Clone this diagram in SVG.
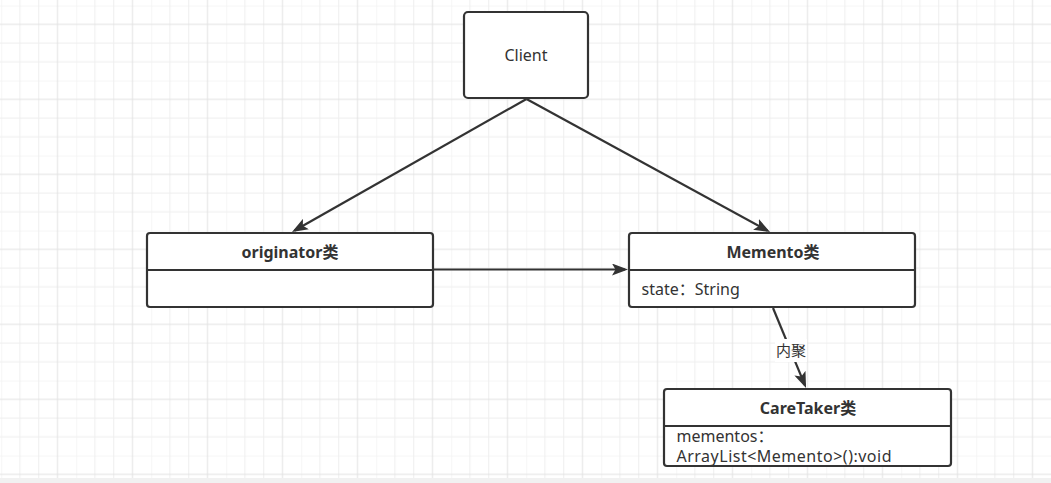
<svg xmlns="http://www.w3.org/2000/svg" width="1051" height="483" viewBox="0 0 1051 483">
  <defs>
    <pattern id="grid" patternUnits="userSpaceOnUse" x="1.25" y="5.6" width="75" height="75">
      <g stroke="#eeeeee" stroke-width="1" fill="none">
        <line x1="0" y1="0" x2="0" y2="75"/>
        <line x1="18.75" y1="0" x2="18.75" y2="75"/>
        <line x1="37.5" y1="0" x2="37.5" y2="75"/>
        <line x1="0" y1="0" x2="75" y2="0"/>
        <line x1="0" y1="37.5" x2="75" y2="37.5"/>
        <line x1="0" y1="56.25" x2="75" y2="56.25"/>
      </g>
      <g stroke="#e2e2e2" stroke-width="1" fill="none">
        <line x1="56.25" y1="0" x2="56.25" y2="75"/>
        <line x1="0" y1="18.75" x2="75" y2="18.75"/>
      </g>
    </pattern>
    <marker id="arrow" markerUnits="userSpaceOnUse" viewBox="0 0 16 12" refX="13" refY="6" markerWidth="16" markerHeight="12" orient="auto">
      <path d="M0,0 L16,6 L0,12 L3.5,6 Z" fill="#333333"/>
    </marker>
  </defs>
  <style>
    .box { fill: #ffffff; stroke: #333333; stroke-width: 2.2; }
    .div { stroke: #333333; stroke-width: 2.2; }
    .edge { stroke: #333333; stroke-width: 2.2; fill: none; marker-end: url(#arrow); }
    text { font-family: "Noto Sans", "Noto Sans CJK SC", sans-serif; fill: #333333; font-size: 16px; }
    .title { font-weight: bold; text-anchor: middle; }
    .center { text-anchor: middle; }
    .label { font-size: 15px; text-anchor: middle; }
  </style>

  <rect x="0" y="0" width="1051" height="483" fill="#ffffff"/>
  <rect x="0" y="0" width="1051" height="478" fill="url(#grid)"/>
  <rect x="0" y="478" width="1051" height="5" fill="#f1f1f1"/>

  <g id="connectors">
    <line class="edge" x1="526.5" y1="99" x2="294.6" y2="230.5"/>
    <line class="edge" x1="526.5" y1="99" x2="767.4" y2="230.6"/>
    <line class="edge" x1="434" y1="269.5" x2="625" y2="269.5"/>
    <line class="edge" x1="773" y1="308" x2="804.9" y2="385.2"/>
    <rect x="775" y="339" width="32" height="23" fill="#ffffff"/>
    <text class="label" x="791" y="356">内聚</text>
  </g>

  <g id="client">
    <rect class="box" x="464" y="12" width="124" height="86" rx="4" ry="4"/>
    <text class="center" x="526" y="61">Client</text>
  </g>

  <g id="originator">
    <rect class="box" x="147" y="233" width="286" height="74" rx="3" ry="3"/>
    <line class="div" x1="147" y1="270" x2="433" y2="270"/>
    <text class="title" x="290" y="258">originator类</text>
  </g>

  <g id="memento">
    <rect class="box" x="629" y="233" width="286" height="74" rx="3" ry="3"/>
    <line class="div" x1="629" y1="270" x2="915" y2="270"/>
    <text class="title" x="773" y="258">Memento类</text>
    <text x="641.5" y="295">state：String</text>
  </g>

  <g id="caretaker">
    <rect class="box" x="664" y="389" width="287" height="77" rx="3" ry="3"/>
    <line class="div" x1="664" y1="426" x2="951" y2="426"/>
    <text class="title" x="808" y="413.5">CareTaker类</text>
    <text x="676.5" y="442">mementos：</text>
    <text x="676.5" y="462" textLength="215" lengthAdjust="spacing">ArrayList&lt;Memento&gt;():void</text>
  </g>
</svg>
